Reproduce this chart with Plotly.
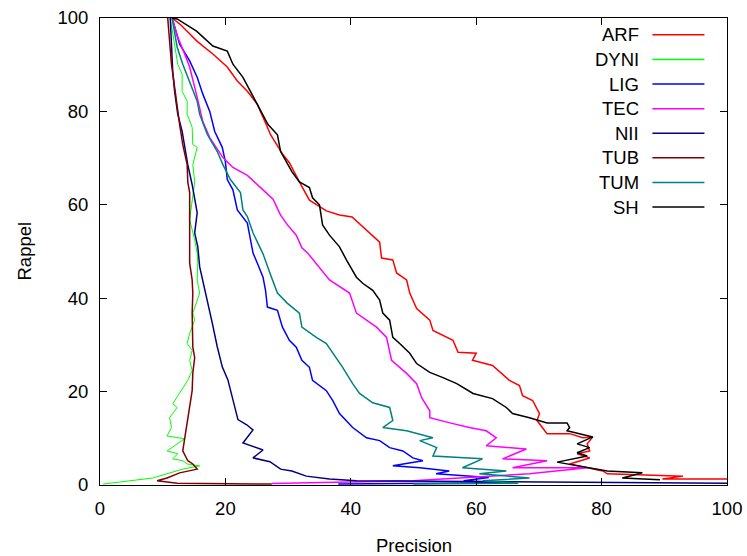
import plotly.graph_objects as go

# ---------------- data (Precision, Rappel) ----------------
series_names = ["ARF", "DYNI", "LIG", "TEC", "NII", "TUB", "TUM", "SH"]
series_colors = ["#ff0000", "#00ff00", "#0000ff", "#ff00ff", "#000080", "#800000", "#008080", "#000000"]

arf_x = [11.5, 12.9, 15.5, 18.0, 20.3, 21.9, 23.5, 25.1, 26.7, 27.2, 29.2, 30.2, 31.8, 32.2, 33.4, 36.1, 38.2, 40.2, 41.9, 44.6,
         44.9, 46.7, 47.3, 48.9, 49.4, 50.5, 52.6, 53.1, 56.3, 57.1, 60.0, 59.4, 62.6, 65.3, 66.9, 67.4, 69.0, 70.1, 69.7, 70.6,
         71.3, 74.9, 77.0, 78.6, 77.7, 78.1, 76.1, 78.1, 74.9, 80.2, 80.9, 93.0, 89.7, 100.0]
arf_y = [100, 98.5, 95, 92.3, 89.5, 86.5, 84.3, 81.5, 76.6, 75, 70.7, 69, 64.9, 64, 61, 58.7, 57.8, 57.4, 55.3, 52,
         48.6, 48.2, 45.4, 43.9, 41.1, 37.8, 35.3, 33.1, 31, 28.4, 28.2, 26.7, 25.6, 22.4, 21.3, 19.1, 18.1, 15.3, 13.8, 12.3,
         11, 11, 10.1, 10.3, 8.8, 7.3, 6.7, 5.8, 4.5, 3, 2.4, 1.9, 1.3, 1.3]

dyni_x = [11.2, 11.9, 12.4, 13.1, 13.1, 13.9, 13.9, 14.7, 14.8, 15.5, 14.8, 15.1, 14.7, 14.3, 15.1, 15.5, 15.6, 15.5, 15.9, 14.8,
          15.1, 14.3, 13.9, 14.7, 14.3, 14.7, 14.0, 12.7, 11.6, 12.3, 11.1, 11.4, 10.7, 13.5, 10.7, 12.4, 11.6, 13.2, 13.9, 15.9,
          13.2, 8.4, 0.5]
dyni_y = [100, 93.8, 90.1, 88, 84.3, 82.2, 79.4, 76.6, 72.9, 72.3, 68.6, 64.9, 61.1, 56.8, 52.5, 49.7, 47.5, 43.9, 41.1, 36.8,
          35.3, 32.5, 30.3, 28.8, 26.7, 24.5, 22.4, 19.6, 17.4, 16.6, 14.4, 12.3, 10.5, 9.9, 7.3, 6.7, 5.6, 5.2, 4.5, 4.1,
          3.4, 1.5, 0.2]

lig_x = [11.5, 12.7, 14.3, 15.5, 16.4, 17.5, 18.3, 19.5, 20.0, 20.3, 21.2, 21.9, 23.5, 24.0, 24.4, 25.1, 26.0, 26.4, 26.7, 28.3,
         29.1, 30.2, 31.3, 32.2, 33.4, 33.9, 36.1, 37.1, 38.2, 40.3, 42.5, 44.6, 46.2, 48.3, 49.9, 51.5, 46.7, 51.0, 55.7, 53.6,
         62.0, 58.0, 64.0, 38.0]
lig_y = [100, 94.4, 90.8, 87.3, 83.7, 80, 75.7, 72.3, 69.2, 65.4, 63.2, 58.9, 56.1, 52.5, 49.7, 47.5, 44.5, 41.7, 38.1, 37.4,
         33.8, 31, 29.5, 26.7, 25.2, 22.4, 20.2, 18.1, 15.3, 12.3, 10.1, 9.5, 8, 7.3, 5.8, 5.2, 4.1, 3.7, 3, 2.4,
         1.6, 0.9, 0.5, 0.2]

tec_x = [11.5, 12.4, 13.5, 14.3, 15.5, 16.4, 17.5, 19.6, 21.2, 23.5, 26.0, 27.6, 28.8, 29.9, 31.3, 32.2, 33.1, 36.6, 39.8, 40.9,
         44.1, 45.7, 46.5, 48.9, 50.5, 51.3, 52.6, 52.6, 55.8, 58.9, 61.6, 63.2, 61.6, 68.0, 64.2, 71.3, 65.8, 77.7, 68.5, 49.9,
         27.4]
tec_y = [100, 95.9, 92.3, 89.5, 83, 77.8, 74.4, 70.1, 68, 66.3, 63.2, 61.2, 57.8, 55.7, 53.5, 50.8, 49.7, 43.9, 41.1, 36.8,
         33.8, 31.6, 26.7, 23.9, 21.7, 18.7, 15.9, 14.4, 13.3, 12.3, 11.6, 10.1, 8.4, 7.7, 5.6, 5.2, 3.7, 3.7, 2.4, 0.9,
         0.3]

nii_x = [11.2, 11.4, 11.6, 11.9, 12.4, 13.1, 13.5, 14.0, 14.7, 15.5, 15.1, 15.6, 15.9, 17.1, 17.9, 18.7, 19.5, 20.4, 21.2, 22.0,
         23.4, 24.4, 22.8, 26.0, 24.4, 27.1, 28.8, 30.6, 32.9, 36.6, 40.9, 100.0]
nii_y = [100, 93.8, 88.6, 84.3, 79.4, 75.7, 72.3, 68.6, 64.3, 58.3, 54, 51, 46.7, 39.8, 34.7, 29.6, 25.3, 22.5, 18.2, 14,
         12.9, 11.8, 9, 7.5, 5.8, 5, 3.4, 3, 1.9, 1.3, 0.9, 0.4]

tub_x = [10.8, 11.1, 11.4, 11.9, 12.3, 12.7, 13.2, 13.9, 14.0, 14.3, 14.3, 14.3, 14.7, 14.8, 14.7, 14.8, 14.8, 15.1, 14.8, 14.7,
         14.3, 14.0, 13.5, 13.2, 14.0, 14.8, 15.5, 12.7, 10.7, 9.1, 12.3, 27.4]
tub_y = [100, 95, 90.1, 85.2, 80.9, 77.2, 72.9, 68.6, 64.9, 62.6, 51, 47.5, 43.9, 41.1, 36.8, 33.1, 29.5, 27.3, 23.9, 20.2,
         16.6, 13.8, 10.1, 7.3, 5.2, 4.5, 3.4, 2.6, 1.5, 0.9, 0.4, 0.2]

tum_x = [11.5, 12.3, 13.2, 14.3, 15.5, 15.9, 17.1, 18.7, 19.6, 20.8, 22.4, 22.8, 23.5, 24.4, 26.0, 27.2, 28.3, 29.9, 31.8, 32.2,
         34.5, 36.1, 37.9, 38.7, 40.3, 41.4, 43.5, 46.2, 46.7, 45.1, 48.9, 50.5, 53.1, 51.0, 53.7, 53.1, 61.0, 57.8, 64.8, 60.5,
         68.5, 61.0, 66.7, 50.0]
tum_y = [100, 93.8, 90.1, 86.5, 82.2, 79.4, 75.1, 71.4, 68.6, 65.4, 62.6, 58.9, 57.5, 54, 49.5, 45, 41.1, 38.9, 36.8, 33.8,
         31.6, 30.3, 26.7, 25.2, 21.7, 19.6, 17.6, 16.6, 13.8, 12.3, 11.6, 11, 10.1, 9.5, 8, 6.2, 5.6, 3.7, 3, 2.4,
         1.5, 0.9, 0.4, 0.2]

sh_x = [11.5, 12.3, 15.4, 18.0, 20.3, 21.2, 22.8, 24.0, 25.1, 26.0, 26.8, 28.3, 28.8, 30.6, 31.8, 33.4, 33.9, 35.0, 35.5, 36.6,
        38.2, 39.3, 40.9, 41.9, 43.5, 44.6, 45.1, 46.2, 46.7, 47.8, 49.4, 50.5, 52.6, 54.7, 56.9, 59.5, 62.6, 64.8, 65.8, 68.5,
        71.3, 74.5, 74.9, 74.5, 78.6, 76.1, 78.1, 76.1, 77.7, 72.9, 76.5, 80.9, 86.5, 83.3, 89.3]
sh_y = [100, 99.8, 97.2, 94, 92.9, 90.1, 87.3, 84.3, 81.5, 79.4, 77.2, 75, 71.4, 67.1, 64.9, 63.7, 61.5, 60, 55.7, 53.5,
        51, 48.2, 44.5, 43.2, 41.7, 39.6, 36.8, 35.3, 31.6, 30.3, 28.2, 26, 24.1, 23, 21.7, 19.6, 18.5, 16.6, 15.3, 14.4,
        13.3, 13.3, 12.3, 11.6, 10.3, 8.8, 8, 6.9, 6.2, 4.9, 4.1, 3, 2.6, 1.5, 1.1]

axis_ticks = [0, 20, 40, 60, 80, 100]
x_title = "Precision"
y_title = "Rappel"

series_x = [arf_x, dyni_x, lig_x, tec_x, nii_x, tub_x, tum_x, sh_x]
series_y = [arf_y, dyni_y, lig_y, tec_y, nii_y, tub_y, tum_y, sh_y]
series_width = [1.5, 1.0, 1.5, 1.5, 1.5, 1.5, 1.5, 1.5]

FONT = "Liberation Sans, Arial, Helvetica, sans-serif"
FS = 18.5

fig = go.Figure()
for name, color, xs, ys, w in zip(series_names, series_colors, series_x, series_y, series_width):
    fig.add_trace(go.Scatter(x=xs, y=ys, mode="lines", name=name,
                             line=dict(color=color, width=w), showlegend=False))

# gnuplot-style key: label right-aligned, then a line sample
annotations = []
shapes = []
row0, step = 0.964, 0.0527
for i, (name, color) in enumerate(zip(series_names, series_colors)):
    yy = row0 - i * step
    annotations.append(dict(x=0.863, y=yy, xref="paper", yref="paper", text=name, showarrow=False,
                            xanchor="right", yanchor="middle", font=dict(family=FONT, size=FS, color="black")))
    shapes.append(dict(type="line", xref="paper", yref="paper", x0=0.881, x1=0.964, y0=yy, y1=yy,
                       line=dict(color=color, width=1.5)))

annotations.append(dict(x=0.5, y=0, xref="paper", yref="paper", text=x_title, showarrow=False,
                        xanchor="center", yanchor="middle", yshift=-60,
                        font=dict(family=FONT, size=FS, color="black")))
annotations.append(dict(x=0, y=0.5, xref="paper", yref="paper", text=y_title, showarrow=False,
                        xanchor="center", yanchor="middle", xshift=-76, textangle=-90,
                        font=dict(family=FONT, size=FS, color="black")))

axis_common = dict(range=[0, 100], tickvals=axis_ticks, ticks="inside", ticklen=7, tickwidth=1,
                   tickcolor="black", showline=True, linecolor="black", linewidth=1, mirror="allticks",
                   showgrid=False, zeroline=False, automargin=False,
                   tickfont=dict(family=FONT, size=FS, color="black"))

fig.update_layout(
    width=747, height=556,
    margin=dict(l=100, r=20, t=18, b=71),
    plot_bgcolor="white", paper_bgcolor="white",
    xaxis=dict(**axis_common, ticklabelstandoff=7),
    yaxis=dict(**axis_common, ticklabelstandoff=7),
    annotations=annotations,
    shapes=shapes,
    showlegend=False,
)

fig.write_html("out.html", config={"displayModeBar": False},
               post_script="document.body.style.margin='0';document.body.style.overflow='hidden';")
